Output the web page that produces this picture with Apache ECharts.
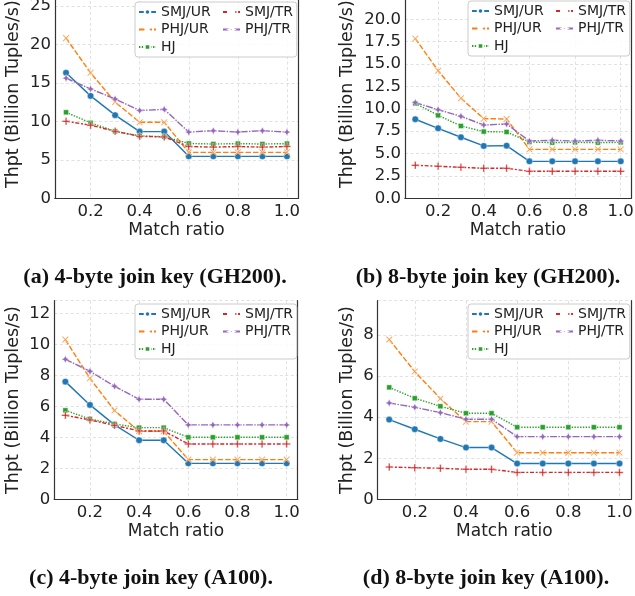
<!DOCTYPE html>
<html lang="en">
<head>
<meta charset="UTF-8">
<title>Join throughput vs match ratio</title>
<script src="https://cdn.jsdelivr.net/npm/echarts@6/dist/echarts.min.js"></script>
<style>
    html, body { margin: 0; padding: 0; background: #fff; }
    #chart { width: 635px; height: 596px; }
</style>
</head>
<body>
<div id="chart"></div>
<script>
    var ratios = [0.1, 0.2, 0.3, 0.4, 0.5, 0.6, 0.7, 0.8, 0.9, 1.0];
    var xTicks = [0.2, 0.4, 0.6, 0.8, 1.0];
    var names = ['SMJ/UR', 'PHJ/UR', 'HJ', 'SMJ/TR', 'PHJ/TR'];
    var captions = ['(a) 4-byte join key (GH200).', '(b) 8-byte join key (GH200).',
        '(c) 4-byte join key (A100).', '(d) 8-byte join key (A100).'];

    // (a) 4-byte, GH200
    var a_smjUR = [16.3, 13.3, 10.8, 8.66, 8.66, 5.45, 5.45, 5.45, 5.45, 5.45];
    var a_phjUR = [20.8, 16.3, 12.5, 9.87, 9.87, 5.97, 5.97, 5.97, 5.97, 5.97];
    var a_hj = [11.17, 9.8, 8.7, 8.1, 8.0, 7.12, 7.05, 7.1, 7.05, 7.1];
    var a_smjTR = [10.0, 9.5, 8.7, 8.05, 7.97, 6.72, 6.65, 6.72, 6.65, 6.72];
    var a_phjTR = [15.6, 14.2, 12.9, 11.4, 11.55, 8.6, 8.78, 8.6, 8.78, 8.6];
    // (b) 8-byte, GH200
    var b_smjUR = [8.83, 7.82, 6.82, 5.85, 5.88, 4.13, 4.13, 4.13, 4.13, 4.13];
    var b_phjUR = [17.84, 14.26, 11.17, 8.9, 8.86, 5.47, 5.47, 5.47, 5.47, 5.47];
    var b_hj = [10.6, 9.27, 8.08, 7.45, 7.41, 6.29, 6.22, 6.25, 6.22, 6.25];
    var b_smjTR = [3.69, 3.58, 3.46, 3.35, 3.35, 3.02, 3.02, 3.02, 3.02, 3.02];
    var b_phjTR = [10.69, 9.9, 9.16, 8.19, 8.3, 6.4, 6.48, 6.4, 6.48, 6.4];
    // (c) 4-byte, A100
    var c_smjUR = [7.59, 6.09, 4.8, 3.81, 3.81, 2.32, 2.32, 2.32, 2.32, 2.32];
    var c_phjUR = [10.3, 7.8, 5.72, 4.39, 4.39, 2.56, 2.56, 2.56, 2.56, 2.56];
    var c_hj = [5.74, 5.18, 4.86, 4.62, 4.62, 4.0, 4.0, 4.0, 4.0, 4.0];
    var c_smjTR = [5.42, 5.12, 4.77, 4.41, 4.41, 3.57, 3.57, 3.57, 3.57, 3.57];
    var c_phjTR = [9.03, 8.26, 7.29, 6.45, 6.45, 4.8, 4.8, 4.8, 4.8, 4.8];
    // (d) 8-byte, A100
    var d_smjUR = [3.88, 3.41, 2.94, 2.52, 2.52, 1.74, 1.74, 1.74, 1.74, 1.74];
    var d_phjUR = [7.78, 6.22, 4.9, 3.78, 3.78, 2.27, 2.27, 2.27, 2.27, 2.27];
    var d_hj = [5.45, 4.92, 4.53, 4.19, 4.19, 3.51, 3.51, 3.51, 3.51, 3.51];
    var d_smjTR = [1.57, 1.54, 1.51, 1.46, 1.46, 1.31, 1.31, 1.31, 1.31, 1.31];
    var d_phjTR = [4.69, 4.48, 4.22, 3.9, 3.9, 3.05, 3.05, 3.05, 3.05, 3.05];

    var panelData = [
        [a_smjUR, a_phjUR, a_hj, a_smjTR, a_phjTR],
        [b_smjUR, b_phjUR, b_hj, b_smjTR, b_phjTR],
        [c_smjUR, c_phjUR, c_hj, c_smjTR, c_phjTR],
        [d_smjUR, d_phjUR, d_hj, d_smjTR, d_phjTR]
    ];

    var colors = ['#1f77b4', '#ff7f0e', '#2ca02c', '#d62728', '#9467bd'];
    var dashes = ['solid', [5.5, 2], [1.4, 1.4], [4, 1.7, 2, 1.7], [7, 1.4, 1.4, 1.4]];
    var symbols = [
        'circle',
        'path://M1,0 L5,4 L9,0 L10,1 L6,5 L10,9 L9,10 L5,6 L1,10 L0,9 L4,5 L0,1 Z',
        'rect',
        'path://M4,0 H6 V4 H10 V6 H6 V10 H4 V6 H0 V4 H4 Z',
        'path://M5,0 L6.6,3.4 L10,5 L6.6,6.6 L5,10 L3.4,6.6 L0,5 L3.4,3.4 Z'
    ];
    var symbolSizes = [6.5, 6.5, 5, 7.5, 7.5];

    // layout of the four panels (pixels)
    var panels = [
        {left: 55, right: 337, top: -10, bottom: 397.7, yMax: 27.05, step: 5, dec: 0, labelMax: 25, nameGap: 33, lg: [135, 2], cap: [155, 277]},
        {left: 405, right: 4, top: -10, bottom: 397.7, yMax: 23.27, step: 2.5, dec: 1, labelMax: 20, nameGap: 49, lg: [468, 1], cap: [488, 277]},
        {left: 54.3, right: 337.3, top: 300.7, bottom: 96.7, yMax: 12.81, step: 2, dec: 0, labelMax: 12, nameGap: 32, lg: [135, 304], cap: [151, 578]},
        {left: 377.7, right: 4, top: 300.7, bottom: 96.7, yMax: 9.67, step: 2, dec: 0, labelMax: 8, nameGap: 21, lg: [468, 304], cap: [486, 578]}
    ];

    var txt = '#222';
    var font = 'DejaVu Sans';
    var grids = [], xAxes = [], yAxes = [], series = [], legends = [], graphics = [];
    var gridLine = {show: true, lineStyle: {color: '#d9d9d9', width: 0.8, type: [3, 2.5]}};
    var spine = {show: true, lineStyle: {color: '#333', width: 1.2}};

    panels.forEach(function (p, i) {
        grids.push({left: p.left, right: p.right, top: p.top, bottom: p.bottom, outerBoundsMode: 'none', containLabel: false});
        xAxes.push({
            type: 'value', gridIndex: i, min: 0.055, max: 1.045,
            name: 'Match ratio', nameLocation: 'middle', nameGap: 24,
            nameTextStyle: {fontFamily: font, fontSize: 17, color: txt},
            axisLine: spine,
            axisTick: {show: false, customValues: xTicks},
            axisLabel: {customValues: xTicks, fontFamily: font, fontSize: 16.5, color: txt, margin: 5,
                formatter: function (v) { return v.toFixed(1); }},
            splitLine: gridLine
        });
        yAxes.push({
            type: 'value', gridIndex: i, min: 0, max: p.yMax, interval: p.step,
            name: 'Thpt (Billion Tuples/s)', nameLocation: 'middle', nameGap: p.nameGap,
            nameTextStyle: {fontFamily: font, fontSize: 17.5, color: txt},
            axisLine: spine,
            axisTick: {show: false},
            axisLabel: {fontFamily: font, fontSize: 16.5, color: txt, margin: 4, showMaxLabel: false,
                formatter: (function (d, m) {
                    return function (v) { return v > m + 1e-6 ? '' : v.toFixed(d); };
                })(p.dec, p.labelMax)},
            splitLine: gridLine
        });

        panelData[i].forEach(function (vals, k) {
            series.push({
                type: 'line', name: names[k], xAxisIndex: i, yAxisIndex: i,
                data: ratios.map(function (r, j) { return [r, vals[j]]; }),
                symbol: symbols[k], symbolSize: symbolSizes[k], showAllSymbol: true,
                lineStyle: {color: colors[k], width: 1.4, type: dashes[k]},
                itemStyle: {color: colors[k], borderColor: '#fff', borderWidth: 0.4},
                emphasis: {disabled: true},
                animation: false
            });
        });

        // legend in two columns with one frame
        legends.push({
            data: names.slice(0, 3), orient: 'vertical', left: p.lg[0], top: p.lg[1],
            itemGap: 3.5, itemWidth: 17, itemHeight: 7,
            padding: [3, 86, 3, 3],
            backgroundColor: 'rgba(255,255,255,0.85)', borderColor: '#ccc', borderWidth: 1, borderRadius: 3,
            textStyle: {fontFamily: font, fontSize: 14, color: txt}
        });
        legends.push({
            data: names.slice(3), orient: 'vertical', left: p.lg[0] + 84, top: p.lg[1],
            itemGap: 3.5, itemWidth: 17, itemHeight: 7,
            padding: [3, 0, 3, 3],
            textStyle: {fontFamily: font, fontSize: 14, color: txt}
        });

        graphics.push({
            type: 'text', x: p.cap[0], y: p.cap[1],
            style: {text: captions[i], fill: '#111', font: 'bold 22px "Liberation Serif"',
                textAlign: 'center', textVerticalAlign: 'middle'}
        });
    });

    // right and top spines
    panels.forEach(function (p, i) {
        xAxes.push({type: 'value', gridIndex: i, position: 'top', axisLine: spine,
            axisTick: {show: false}, axisLabel: {show: false}, splitLine: {show: false}});
        yAxes.push({type: 'value', gridIndex: i, position: 'right', axisLine: spine,
            axisTick: {show: false}, axisLabel: {show: false}, splitLine: {show: false}});
    });

    var chart = echarts.init(document.getElementById('chart'), null, {renderer: 'canvas'});
    chart.setOption({
        animation: false,
        backgroundColor: '#fff',
        grid: grids,
        xAxis: xAxes,
        yAxis: yAxes,
        legend: legends,
        series: series,
        graphic: graphics
    });
</script>
</body>
</html>
